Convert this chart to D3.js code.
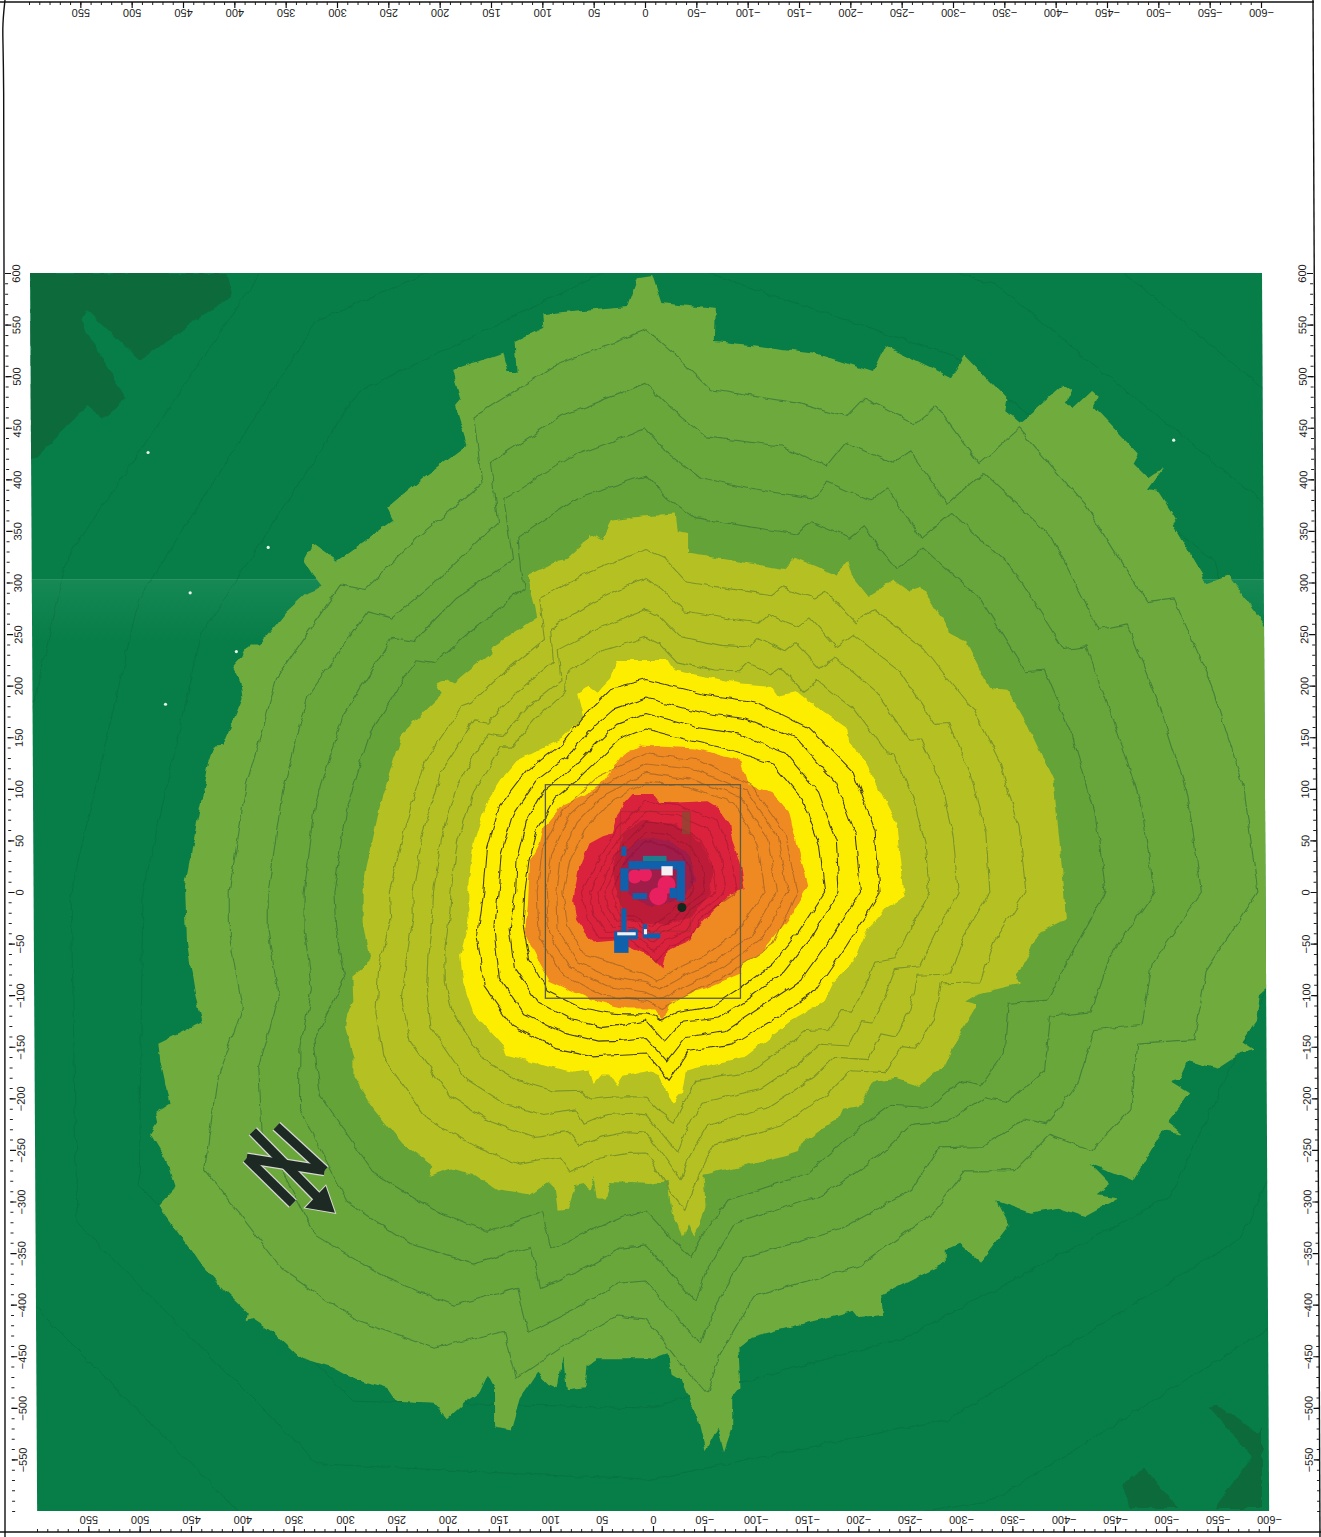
<!DOCTYPE html>
<html>
<head>
<meta charset="utf-8">
<title>Noise contour map</title>
<script src="https://cdn.jsdelivr.net/npm/d3@7"></script>
<style>
  html, body { margin: 0; padding: 0; background: #fff; }
  svg { display: block; }
  text { font-family: "Liberation Sans", Arial, sans-serif; font-size: 11px; fill: #222; }
</style>
</head>
<body>
<div id="chart"></div>
<script>
// Axis labels
const xLabels = [550,500,450,400,350,300,250,200,150,100,50,0,-50,-100,-150,-200,-250,-300,-350,-400,-450,-500,-550,-600];
const yLabels = [600,550,500,450,400,350,300,250,200,150,100,50,0,-50,-100,-150,-200,-250,-300,-350,-400,-450,-500,-550];
const xMinor = d3.range(-600, 601, 10);
const yMinor = d3.range(-600, 601, 10);

// Band outlines, [x, y] in map units
const greenOutline = [[-6,598],[-15,571],[-68,565],[-67,534],[-163,523],[-221,504],[-233,529],[-297,498],[-311,520],[-352,478],[-350,466],[-364,454],[-407,492],[-415,486],[-409,474],[-417,470],[-434,486],[-441,480],[-436,470],[-479,425],[-474,416],[-489,401],[-505,412],[-489,390],[-499,388],[-516,362],[-512,357],[-542,307],[-545,299],[-567,307],[-584,284],[-606,255],[-606,6],[-606,-93],[-598,-100],[-594,-125],[-580,-145],[-592,-153],[-580,-156],[-557,-171],[-528,-164],[-520,-181],[-510,-183],[-530,-195],[-508,-223],[-522,-234],[-503,-231],[-475,-280],[-456,-272],[-432,-263],[-452,-283],[-438,-294],[-460,-297],[-427,-315],[-401,-306],[-374,-311],[-342,-300],[-354,-322],[-326,-359],[-305,-341],[-291,-347],[-291,-360],[-229,-391],[-231,-410],[-207,-412],[-202,-406],[-151,-419],[-103,-431],[-90,-442],[-92,-481],[-84,-491],[-84,-519],[-76,-542],[-70,-519],[-58,-542],[-51,-513],[-35,-474],[-25,-468],[-21,-447],[-4,-453],[48,-453],[57,-459],[59,-481],[77,-483],[81,-449],[86,-481],[95,-477],[106,-466],[123,-491],[132,-522],[147,-519],[147,-481],[154,-468],[162,-485],[174,-493],[194,-511],[207,-496],[243,-494],[252,-481],[288,-470],[305,-461],[337,-451],[363,-427],[383,-414],[389,-416],[388,-408],[408,-389],[434,-360],[475,-304],[459,-287],[468,-259],[483,-234],[476,-223],[478,-214],[464,-205],[473,-164],[475,-147],[432,-126],[439,-100],[447,-50],[449,6],[436,74],[425,127],[420,141],[412,142],[393,188],[395,203],[402,217],[395,225],[386,240],[376,240],[350,272],[330,290],[316,296],[325,307],[334,321],[325,338],[301,321],[246,360],[252,372],[217,401],[174,433],[186,472],[181,478],[189,506],[139,523],[134,504],[126,504],[128,533],[100,547],[101,560],[74,563],[18,568],[8,596]];
const oliveOutline = [[6,364],[-29,366],[-31,349],[-41,347],[-41,328],[-135,313],[-145,324],[-186,307],[-196,321],[-200,307],[-217,286],[-241,303],[-256,292],[-268,296],[-293,259],[-295,251],[-311,243],[-334,198],[-352,196],[-370,165],[-397,108],[-407,4],[-409,-26],[-382,-40],[-370,-68],[-359,-80],[-364,-89],[-326,-98],[-311,-107],[-322,-110],[-307,-135],[-291,-169],[-281,-175],[-266,-188],[-244,-181],[-221,-184],[-207,-209],[-190,-211],[-186,-220],[-151,-244],[-149,-251],[-137,-255],[-56,-274],[-58,-304],[-53,-322],[-47,-334],[-41,-322],[-35,-334],[-31,-322],[-25,-311],[-21,-280],[-4,-283],[35,-281],[40,-297],[47,-297],[50,-276],[53,-290],[61,-283],[69,-285],[76,-308],[86,-309],[89,-287],[95,-281],[113,-294],[145,-289],[168,-274],[191,-269],[210,-276],[207,-266],[237,-244],[266,-209],[285,-177],[285,-160],[293,-132],[291,-117],[285,-107],[286,-82],[269,-68],[276,-29],[276,6],[267,47],[259,84],[243,135],[237,154],[198,192],[204,202],[194,207],[186,203],[152,231],[149,238],[106,266],[115,307],[86,321],[76,323],[61,337],[55,347],[43,341],[33,360]];
const yellowOutline = [[-4,225],[28,225],[35,207],[42,200],[47,194],[55,200],[67,192],[61,169],[81,150],[126,127],[142,108],[155,88],[168,47],[173,8],[173,-29],[181,-61],[178,-89],[168,-117],[139,-149],[135,-158],[100,-167],[71,-175],[55,-173],[51,-186],[43,-177],[35,-177],[28,-188],[22,-179],[-4,-173],[-12,-177],[-21,-195],[-27,-205],[-35,-195],[-39,-173],[-95,-160],[-141,-125],[-174,-106],[-182,-89],[-202,-68],[-213,-40],[-233,-17],[-252,-5],[-250,4],[-244,66],[-229,96],[-213,127],[-198,146],[-196,158],[-167,178],[-147,194],[-128,190],[-121,200],[-92,202],[-27,215],[-21,225]];
const orangeOutline = [[6,142],[-49,139],[-92,127],[-99,104],[-123,96],[-139,78],[-147,47],[-158,6],[-140,-25],[-114,-57],[-94,-70],[-92,-79],[-59,-93],[-25,-106],[-17,-125],[-7,-113],[19,-113],[32,-110],[57,-103],[94,-86],[106,-64],[118,-41],[115,-12],[113,30],[103,49],[100,62],[81,85],[57,96],[40,108],[22,133]];
const redOutline = [[13,95],[-7,95],[-14,86],[-59,88],[-72,80],[-82,66],[-85,49],[-92,30],[-96,3],[-82,-2],[-65,-18],[-50,-35],[-43,-47],[-20,-57],[-17,-75],[-4,-62],[13,-54],[30,-47],[52,-49],[67,-28],[71,-9],[66,20],[55,47],[42,54],[32,57],[28,71],[22,85]];
const deepRedOutline = [[6,69],[-30,66],[-53,49],[-65,23],[-62,-2],[-43,-25],[-20,-31],[19,-28],[28,-2],[32,30],[22,56]];
const coreOutline = [[6,51],[-23,51],[-43,35],[-48,11],[-33,-9],[-4,-14],[17,-4],[23,25],[17,42]];

// Darker patches of the background
const cornerPatchNW = [[600,600],[408,600],[403,579],[493,516],[543,563],[551,555],[507,478],[529,459],[544,471],[600,416]];
const cornerPatchS = [[-464,-574],[-486,-558],[-518,-597],[-471,-597]];
const cornerPatchSE = [[-554,-597],[-590,-547],[-549,-500],[-557,-498],[-596,-525],[-600,-519],[-600,-597]];

// Contour lines: radius at each bearing, clockwise from the top of the sheet
const bearings = [0,3,7.5,17,23,24,30,31,38,39,49,60,61,70,80,90,98,105,107,114,120,121,127,131,138,150,165,171,173,176,180,184,190,195,198,205,214,224,238,246,254,264,270,285,300,315,317,327,338,340,350];
const green1 = [545,522,491,496,500,524,524,550,527,578,569,563,588,586,591,596,551,553,501,517,501,458,449,412,418,418,406,456,490,456,414,412,445,488,447,488,502,509,507,458,409,408,406,403,415,421,401,409,426,490,518];
const green2 = [493,469,445,452,448,477,480,499,477,523,524,509,536,532,536,541,498,500,456,460,451,429,410,378,388,378,367,412,441,412,377,380,412,442,404,442,452,463,441,413,372,370,368,367,380,384,363,365,386,443,469];
const green3 = [449,425,405,406,415,435,438,457,435,474,475,470,490,485,490,495,456,449,412,425,407,385,369,343,342,340,333,373,400,373,343,346,373,397,362,398,411,418,398,369,338,335,333,333,341,349,332,340,347,405,428];
const green4 = [404,383,366,369,377,393,396,413,396,429,432,427,444,442,444,448,419,405,369,382,376,356,347,315,309,315,309,340,357,335,309,315,335,358,326,364,371,380,374,354,306,304,304,303,310,317,303,306,317,365,388];
const olive1 = [332,325,303,306,313,324,329,340,331,352,359,363,365,367,369,370,343,337,301,306,303,291,291,264,264,262,254,291,310,286,253,254,262,281,270,291,298,306,302,288,271,250,250,243,250,254,250,254,264,303,315];
const olive2 = [304,294,275,277,283,294,297,310,301,321,327,325,337,336,336,335,312,307,276,281,281,267,270,244,243,240,233,262,281,257,234,233,241,254,244,262,269,275,271,260,243,228,227,225,231,236,225,231,241,272,286];
const olive3 = [273,267,250,250,258,270,270,282,275,293,296,296,306,306,304,304,285,276,254,254,254,244,248,225,223,221,211,238,254,236,216,215,219,233,221,238,247,252,247,234,221,209,207,206,211,217,206,213,221,250,260];
const olive4 = [247,241,225,225,233,243,244,254,247,264,269,270,276,276,276,276,260,250,233,233,231,223,223,206,202,202,189,213,225,215,199,199,202,208,202,213,221,227,222,214,204,192,190,190,194,199,192,199,209,226,238];

const yellowBearings = [0,17,30,45,60,75,90,105,120,135,150,165,173,176,180,190,198,210,225,240,255,270,285,300,315,330,340,350];
const yellow1 = [206,200,213,225,233,231,228,202,191,175,170,160,184,170,156,160,167,175,184,182,170,158,160,165,165,165,180,200];
const yellow2 = [188,182,194,209,213,211,209,184,173,158,155,146,165,153,141,146,152,158,167,165,153,144,146,150,152,152,165,180];
const yellow3 = [173,167,177,191,194,192,188,167,155,144,141,131,146,136,125,131,138,143,150,148,138,127,130,135,140,140,150,165];
const yellow4 = [158,153,160,175,177,175,174,153,141,131,128,121,126,121,118,120,123,129,136,131,124,118,118,122,127,128,136,150];

const innerBearings = [0,22,45,67,90,112,135,157,172,180,202,225,247,270,292,315,337];
const orange1 = [134,138,146,147,147,134,113,107,114,105,109,114,113,106,109,114,121];
const orange2 = [124,128,138,139,138,122,105,99,105,97,99,105,103,97,99,105,112];
const orange3 = [115,118,130,129,127,111,95,89,95,88,89,95,93,87,89,95,103];
const orange4 = [107,110,122,118,116,97,85,80,87,80,76,85,83,81,80,85,93];
const red1 = [88,90,98,90,88,60,62,57,68,57,48,63,63,63,56,58,68];
const red2 = [78,80,86,80,78,54,54,50,58,50,42,55,55,55,49,52,60];
const red3 = [68,70,74,70,68,46,46,43,50,43,36,47,47,47,42,46,52];
const red4 = [58,60,62,60,58,40,38,36,42,36,30,40,40,40,36,40,45];
const red5 = [48,50,50,48,46,34,30,30,34,30,25,33,33,33,30,33,38];

// Faint contours out in the dark green
const farBearings = [0,30,60,90,120,150,180,210,240,270,300,330];
const far1 = [620,600,640,650,590,500,500,570,570,490,500,560];
const far2 = [690,680,720,730,670,590,570,640,640,560,570,640];
const far3 = [760,770,810,820,770,680,650,730,730,640,650,720];

// Site layout, [x0, y0, x1, y1]
const siteBox = [98,104,-92,-103];
const blocks = [[17,30,-38,22],[25,23,17,1],[-30,28,-38,-9],[24,44,19,35],[13,-1,-1,-7],[-23,4,-30,-6],[24,-16,19,-38],[31,-38,17,-59],[17,-36,8,-46],[3,-31,-1,-45],[-1,-40,-14,-45]];
const whiteBlocks = [[28,-39,10,-42],[2,-36,-1,-41],[-15,25,-26,16]];
const pinkSpots = [[11,15,7],[1,17,7],[-20,7,9],[-12,-4,9]];
const specks = [[368,334],[399,233],[485,426],[444,290],[468,182],[-514,438]];

// North arrow, [x, y]
const arrowBars = [[[360,-227],[313,-270]],[[389,-258],[313,-270]],[[389,-258],[344,-302]],[[383,-232],[318,-298]]];
const arrowHead = [[303,-311],[332,-306],[312,-285]];

const width = 1321, height = 1537;
const x = d3.scaleLinear().domain([600, -600]).range([30, 1262]);
const y = d3.scaleLinear().domain([600, -600]).range([273, 1511]);

const svg = d3.select('#chart').append('svg').attr('width', width).attr('height', height);
const defs = svg.append('defs');

// The sheet was scanned slightly skewed
const skew = 'translate(-1.57,0) skewX(0.33)';

const foldGrad = defs.append('linearGradient').attr('id', 'fold').attr('x1', 0).attr('x2', 0).attr('y1', 0).attr('y2', 1);
foldGrad.append('stop').attr('offset', '0%').attr('stop-color', '#6fd0a0').attr('stop-opacity', 0.14);
foldGrad.append('stop').attr('offset', '100%').attr('stop-color', '#6fd0a0').attr('stop-opacity', 0);

defs.append('clipPath').attr('id', 'plotClip').append('rect')
    .attr('transform', skew)
    .attr('x', x(600)).attr('y', y(600)).attr('width', x(-600) - x(600)).attr('height', y(-600) - y(600));

// Rough, slightly soft edges like the printed scan
const rough = defs.append('filter').attr('id', 'rough')
    .attr('filterUnits', 'userSpaceOnUse').attr('x', 0).attr('y', 0).attr('width', width).attr('height', height);
rough.append('feTurbulence').attr('type', 'fractalNoise').attr('baseFrequency', 0.085).attr('numOctaves', 2).attr('seed', 3).attr('result', 'noise');
rough.append('feDisplacementMap').attr('in', 'SourceGraphic').attr('in2', 'noise').attr('scale', 6)
    .attr('xChannelSelector', 'R').attr('yChannelSelector', 'G').attr('result', 'moved');
rough.append('feGaussianBlur').attr('in', 'moved').attr('stdDeviation', 0.45);

const polyLine = d3.line().x(d => x(d[0])).y(d => y(d[1])).curve(d3.curveLinearClosed);

function radial(angles, radii) {
    return radii.map((r, i) => {
        const a = angles[i] * Math.PI / 180;
        return [-r * Math.sin(a), r * Math.cos(a)];
    });
}

// Background
const plot = svg.append('g').attr('transform', skew);
plot.append('rect')
    .attr('x', x(600)).attr('y', y(600)).attr('width', x(-600) - x(600)).attr('height', y(-600) - y(600))
    .attr('fill', '#077d48');

const clipped = svg.append('g').attr('clip-path', 'url(#plotClip)');
const map = clipped.append('g').attr('filter', 'url(#rough)');

[cornerPatchNW, cornerPatchS, cornerPatchSE].forEach(p => {
    map.append('path').attr('d', polyLine(p)).attr('fill', '#0a6b3a');
});
[far1, far2, far3].forEach(r => {
    map.append('path').attr('d', polyLine(radial(farBearings, r)))
        .attr('fill', 'none').attr('stroke', '#045a2e').attr('stroke-opacity', 0.25).attr('stroke-width', 1);
});

// Colour bands
const bands = [
    [greenOutline, '#70ab3d'],
    [oliveOutline, '#b5c021'],
    [yellowOutline, '#fdee05'],
    [orangeOutline, '#ef8a22'],
    [redOutline, '#da233c'],
    [deepRedOutline, '#bd1c38'],
    [coreOutline, '#a01a48']
];

function drawBand(i) {
    map.append('path').attr('d', polyLine(bands[i][0])).attr('fill', bands[i][1]);
}

function drawContours(angles, lines, stroke, opacity, widthPx, shade) {
    lines.forEach(r => {
        map.append('path').attr('d', polyLine(radial(angles, r)))
            .attr('fill', shade || 'none').attr('fill-opacity', shade ? 0.018 : 0)
            .attr('stroke', stroke).attr('stroke-opacity', opacity).attr('stroke-width', widthPx)
            .attr('stroke-linejoin', 'round');
    });
}

drawBand(0);
drawContours(bearings, [green1, green2, green3, green4], '#3d7a3a', 0.85, 1.1, '#0b7a35');
drawBand(1);
drawContours(bearings, [olive1, olive2, olive3, olive4], '#78912c', 0.95, 1.1);
drawBand(2);
drawContours(yellowBearings, [yellow1, yellow2, yellow3, yellow4], '#3a3512', 0.95, 1.1);
drawBand(3);
drawContours(innerBearings, [orange1, orange2, orange3, orange4], '#a5642a', 0.8, 1.1);
drawBand(4);
drawBand(5);
drawBand(6);
drawContours(innerBearings, [red1, red2, red3, red4, red5], '#8c1430', 0.45, 1.1);

// Fold across the sheet
plot.append('rect')
    .attr('x', x(600)).attr('y', y(303)).attr('width', x(-600) - x(600)).attr('height', y(243) - y(303))
    .attr('fill', 'url(#fold)');
plot.append('line')
    .attr('x1', x(600)).attr('x2', x(-600)).attr('y1', y(303)).attr('y2', y(303))
    .attr('stroke', '#fff').attr('stroke-opacity', 0.12);

// Site layout
const rectOf = b => ({ x: x(b[0]), y: y(b[1]), w: x(b[2]) - x(b[0]), h: y(b[3]) - y(b[1]) });
const site = svg.append('g');
site.append('rect')
    .attr('x', x(25)).attr('y', y(78)).attr('width', x(-43) - x(25)).attr('height', y(-38) - y(78))
    .attr('fill', 'none').attr('stroke', '#7a3a20').attr('stroke-opacity', 0.4);
site.append('rect')
    .attr('x', x(-35)).attr('y', y(78)).attr('width', x(-43) - x(-35)).attr('height', y(56) - y(78))
    .attr('fill', '#8a4a30').attr('fill-opacity', 0.75);
site.selectAll('circle.spot').data(pinkSpots).enter().append('circle')
    .attr('class', 'spot')
    .attr('cx', d => x(d[0])).attr('cy', d => y(d[1])).attr('r', d => d[2])
    .attr('fill', '#e8205f');
site.selectAll('rect.block').data(blocks).enter().append('rect')
    .attr('class', 'block')
    .attr('x', d => rectOf(d).x).attr('y', d => rectOf(d).y)
    .attr('width', d => rectOf(d).w).attr('height', d => rectOf(d).h)
    .attr('fill', '#1160ac');
site.selectAll('rect.white').data(whiteBlocks).enter().append('rect')
    .attr('class', 'white')
    .attr('x', d => rectOf(d).x).attr('y', d => rectOf(d).y)
    .attr('width', d => rectOf(d).w).attr('height', d => rectOf(d).h)
    .attr('fill', '#f4f0f4');
site.append('circle').attr('cx', x(-35)).attr('cy', y(-15)).attr('r', 4.5).attr('fill', '#12281c');
site.append('rect')
    .attr('x', x(3)).attr('y', y(35)).attr('width', x(-20) - x(3)).attr('height', y(30) - y(35))
    .attr('fill', '#1f7d8c');

// Square around the site
svg.append('rect')
    .attr('x', x(siteBox[0])).attr('y', y(siteBox[1]))
    .attr('width', x(siteBox[2]) - x(siteBox[0])).attr('height', y(siteBox[3]) - y(siteBox[1]))
    .attr('fill', 'none').attr('stroke', '#5a5a45').attr('stroke-width', 1.3);

// White specks on the scan
svg.selectAll('circle.speck').data(specks).enter().append('circle')
    .attr('class', 'speck')
    .attr('cx', d => x(d[0])).attr('cy', d => y(d[1])).attr('r', 1.6)
    .attr('fill', '#e8f4ec');

// North arrow
const arrow = svg.append('g');
const barLine = d3.line().x(d => x(d[0])).y(d => y(d[1]));
arrowBars.forEach(b => {
    arrow.append('path').attr('d', barLine(b)).attr('fill', 'none')
        .attr('stroke', '#d8d8d4').attr('stroke-width', 11.5);
});
arrow.append('path').attr('d', polyLine(arrowHead)).attr('fill', '#d8d8d4').attr('stroke', '#d8d8d4').attr('stroke-width', 2);
arrowBars.forEach(b => {
    arrow.append('path').attr('d', barLine(b)).attr('fill', 'none')
        .attr('stroke', '#1d2a24').attr('stroke-width', 9);
});
arrow.append('path').attr('d', polyLine(arrowHead)).attr('fill', '#1d2a24');

// Axes
function drawAxis(group, scale, axisFn, minor, labels, tickLen, labelPos) {
    group.append('g').call(axisFn(scale).tickValues(minor).tickSize(tickLen).tickFormat(''))
        .call(g => g.select('.domain').remove())
        .selectAll('line').attr('stroke', '#222');
    const major = group.append('g').call(axisFn(scale).tickValues(labels).tickSize(tickLen + 3));
    major.select('.domain').remove();
    major.selectAll('line').attr('stroke', '#111').attr('stroke-width', 1.2);
    major.selectAll('text')
        .attr('x', 0).attr('y', 0).attr('dy', null)
        .attr('text-anchor', 'middle').attr('dominant-baseline', 'central')
        .attr('transform', labelPos)
        .style('font-size', '11px').style('font-family', '"Liberation Sans", Arial, sans-serif');
}

const topAxis = svg.append('g').attr('transform', 'translate(-1,2)');
drawAxis(topAxis, x, d3.axisBottom, xMinor, xLabels, 3, 'translate(0,11) rotate(180)');
topAxis.append('line').attr('x1', 1).attr('x2', 1315).attr('stroke', '#111').attr('stroke-width', 1.4);

const bottomAxis = svg.append('g').attr('transform', 'translate(7,1532)');
drawAxis(bottomAxis, x, d3.axisTop, xMinor, xLabels, 3, 'translate(0,-12) rotate(180)');
bottomAxis.append('line').attr('x1', -7).attr('x2', 1320).attr('stroke', '#111').attr('stroke-width', 1.4);

const sideAxes = svg.append('g').attr('transform', skew);
const leftAxis = sideAxes.append('g').attr('transform', 'translate(5,0)');
drawAxis(leftAxis, y, d3.axisRight, yMinor, yLabels, 3, 'translate(11,0) rotate(-90)');

const rightAxis = sideAxes.append('g').attr('transform', 'translate(1313,0)');
drawAxis(rightAxis, y, d3.axisLeft, yMinor, yLabels, 3, 'translate(-11,0) rotate(-90)');

// Edges of the sheet
svg.append('path')
    .attr('d', d3.line().curve(d3.curveBasis)([[5,0],[2,28],[4,58],[4,300],[5,900],[5,1537]]))
    .attr('fill', 'none').attr('stroke', '#111').attr('stroke-width', 1.4);
svg.append('line')
    .attr('x1', 1313).attr('y1', 0).attr('x2', 1320).attr('y2', 1537)
    .attr('stroke', '#111').attr('stroke-width', 1.4);
</script>
</body>
</html>
